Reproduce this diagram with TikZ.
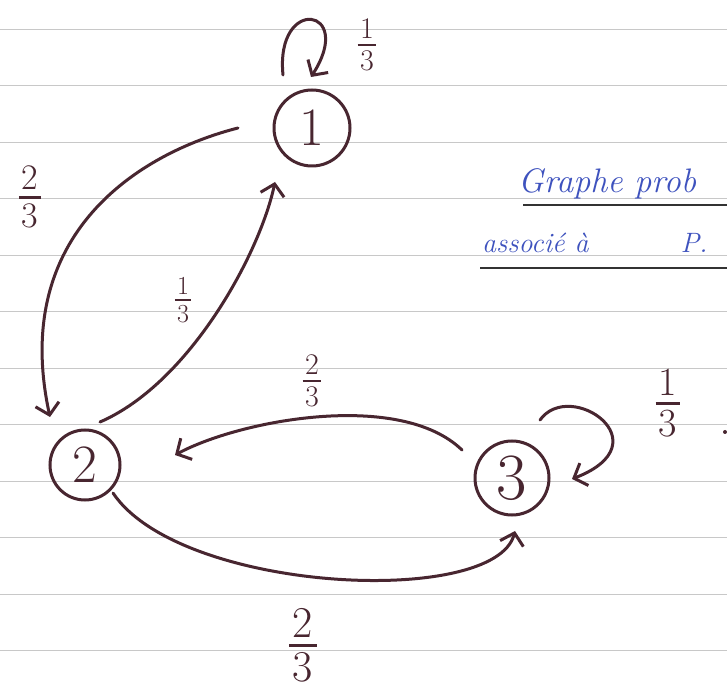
\documentclass[tikz,border=0pt]{standalone}
\usepackage{fontspec}
\usetikzlibrary{arrows.meta,calc}
\definecolor{ink}{RGB}{72,38,48}
\definecolor{bluink}{RGB}{62,82,190}
\definecolor{paperrule}{RGB}{200,200,200}
\newcommand\hfrac[3]{\fontsize{#1}{#1}\selectfont\shortstack{#2\\[0.08em]\rule{0.62em}{0.08em}\\[0.05em]#3}}
\tikzset{
  state/.style={circle,draw=ink,line width=3pt,inner sep=0pt,text=ink,
    font=\fontsize{54}{54}\selectfont},
  edge/.style={draw=ink,line width=3pt,line cap=round,line join=round,
    -{Straight Barb[length=11pt,width=24pt]}},
  loopedge/.style={edge},
  lab/.style={text=ink,inner sep=0pt},
  paper/.style={draw=paperrule,line width=0.8pt},
  uline/.style={draw=black!80,line width=2pt},
  handtext/.style={text=bluink,inner sep=0pt,anchor=base west,
    font=\fontsize{34}{34}\selectfont\itshape},
}
\begin{document}
\begin{tikzpicture}[x=1pt,y=1pt]
\useasboundingbox (0,0) rectangle (727,693);
\fill[white] (0,0) rectangle (727,693);
\begin{scope}
\clip (0,0) rectangle (727,693);
% lined paper
\foreach \k in {0,...,11}{
  \draw[paper] (0,{664-56.5*\k}) -- (727,{664-56.5*\k});
}
% states
\node[state,minimum size=76pt] (n1) at (312,565) {1};
\node[state,minimum size=70pt] (n2) at (85,228) {2};
\node[state,minimum size=74pt,font=\fontsize{66}{66}\selectfont] (n3) at (512,215) {3};
% edges
\draw[edge] ($(n1)+(-74,0)$) .. controls +(-98,-25) and +(-40,184) .. ($(n2)+(-35,48)$);
\draw[edge] ($(n2)+(15,43)$) .. controls +(90,39) and +(-15,-71) .. ($(n1)+(-37,-54)$);
\draw[edge] ($(n3)+(-50,28)$) .. controls +(-62,60) and +(65,35) .. ($(n2)+(90,10)$);
\draw[edge] ($(n2)+(28,-28)$) .. controls +(67,-100) and +(-20,-77) .. ($(n3)+(3,-53)$);
\draw[loopedge] ($(n1)+(-29,53)$) .. controls +(-8,80) and +(45,70) .. ($(n1)+(-1,51)$);
\draw[loopedge] ($(n3)+(28,58)$) .. controls +(30,42) and +(93,36) .. ($(n3)+(60,-1)$);
% labels
\node[lab] (l11) at (367,648) {\hfrac{30}{1}{3}};
\node[lab] (l12) at (30,496) {\hfrac{36}{2}{3}};
\node[lab] (l21) at (183,393) {\hfrac{26}{1}{3}};
\node[lab] (l32) at (312,312) {\hfrac{30}{2}{3}};
\node[lab] (l23) at (303,48) {\hfrac{44}{2}{3}};
\node[lab] (l33) at (668,290) {\hfrac{40}{1}{3}};
% handwritten title
\node[handtext] (t1) at (518,500) {Graphe prob};
\node[handtext,font=\fontsize{28}{28}\selectfont\itshape] (t2) at (482,440) {associé à\hspace{92pt}P.};
\draw[uline] (523,488) -- (727,488);
\draw[uline] (480,425) -- (727,425);
\fill[ink] (725,261) circle (2);
\end{scope}
\end{tikzpicture}
\end{document}
